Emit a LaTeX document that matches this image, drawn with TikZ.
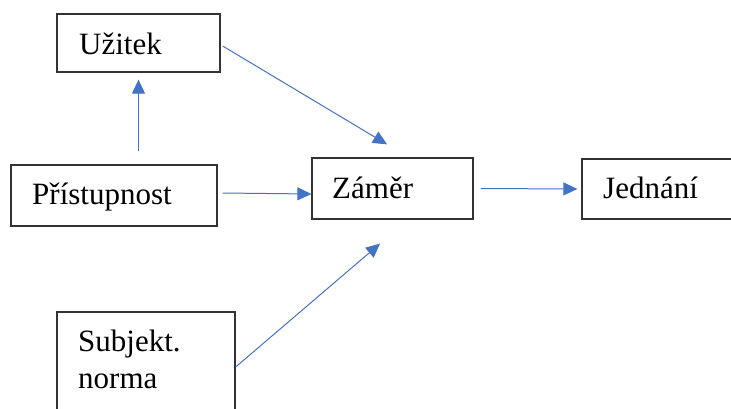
\documentclass[tikz,border=0pt]{standalone}
\usepackage{fontspec}
\setmainfont{Liberation Serif}
\usetikzlibrary{arrows.meta,calc}
\definecolor{arrowblue}{HTML}{4472C4}
\definecolor{boxline}{HTML}{333333}
\begin{document}
\begin{tikzpicture}[x=1pt,y=-1pt,
  box/.style={draw=boxline,line width=1.3pt,inner sep=0pt,rectangle},
  txt/.style={anchor=base west,inner sep=0pt,font=\fontsize{31}{37}\selectfont},
  conn/.style={draw=arrowblue,line width=1pt,-{Triangle[length=14pt,width=13pt]}}]
\useasboundingbox (0,0) rectangle (731,408);
\clip (0,0) rectangle (731,408);
\node[box,minimum width=163pt,minimum height=58pt] (u) at (138.5,43) {};
\node[box,minimum width=206pt,minimum height=61pt] (p) at (114,195.5) {};
\node[box,minimum width=161pt,minimum height=61pt] (z) at (392.5,188.5) {};
\node[box,minimum width=178pt,minimum height=60pt] (j) at (671,189) {};
\node[box,minimum width=178pt,minimum height=128pt] (s) at (146,376) {};
\node[txt] (ut) at (79,54) {Užitek};
\node[txt] (pt) at (32,204) {Přístupnost};
\node[txt] (zt) at (332,198) {Záměr};
\node[txt] (jt) at (603,198) {Jednání};
\node[txt] (st1) at (78,351) {Subjekt.};
\node[txt] (st2) at (78,388) {norma};
\draw[conn] ([xshift=2pt,yshift=-3pt]u.east) -- ([xshift=-5.5pt,yshift=13pt]z.north);
\draw[conn] ($(u.south |- p.north)+(0,-13)$) -- ([yshift=-7pt]u.south);
\draw[conn] ([xshift=5pt,yshift=2.5pt]p.east) -- ([yshift=-5.5pt]z.west);
\draw[conn] ([xshift=7pt]z.east) -- ([xshift=-4pt]j.west);
\draw[conn] ([yshift=9pt]s.east) -- ([xshift=-12.5pt,yshift=-24pt]z.south);
\end{tikzpicture}
\end{document}
